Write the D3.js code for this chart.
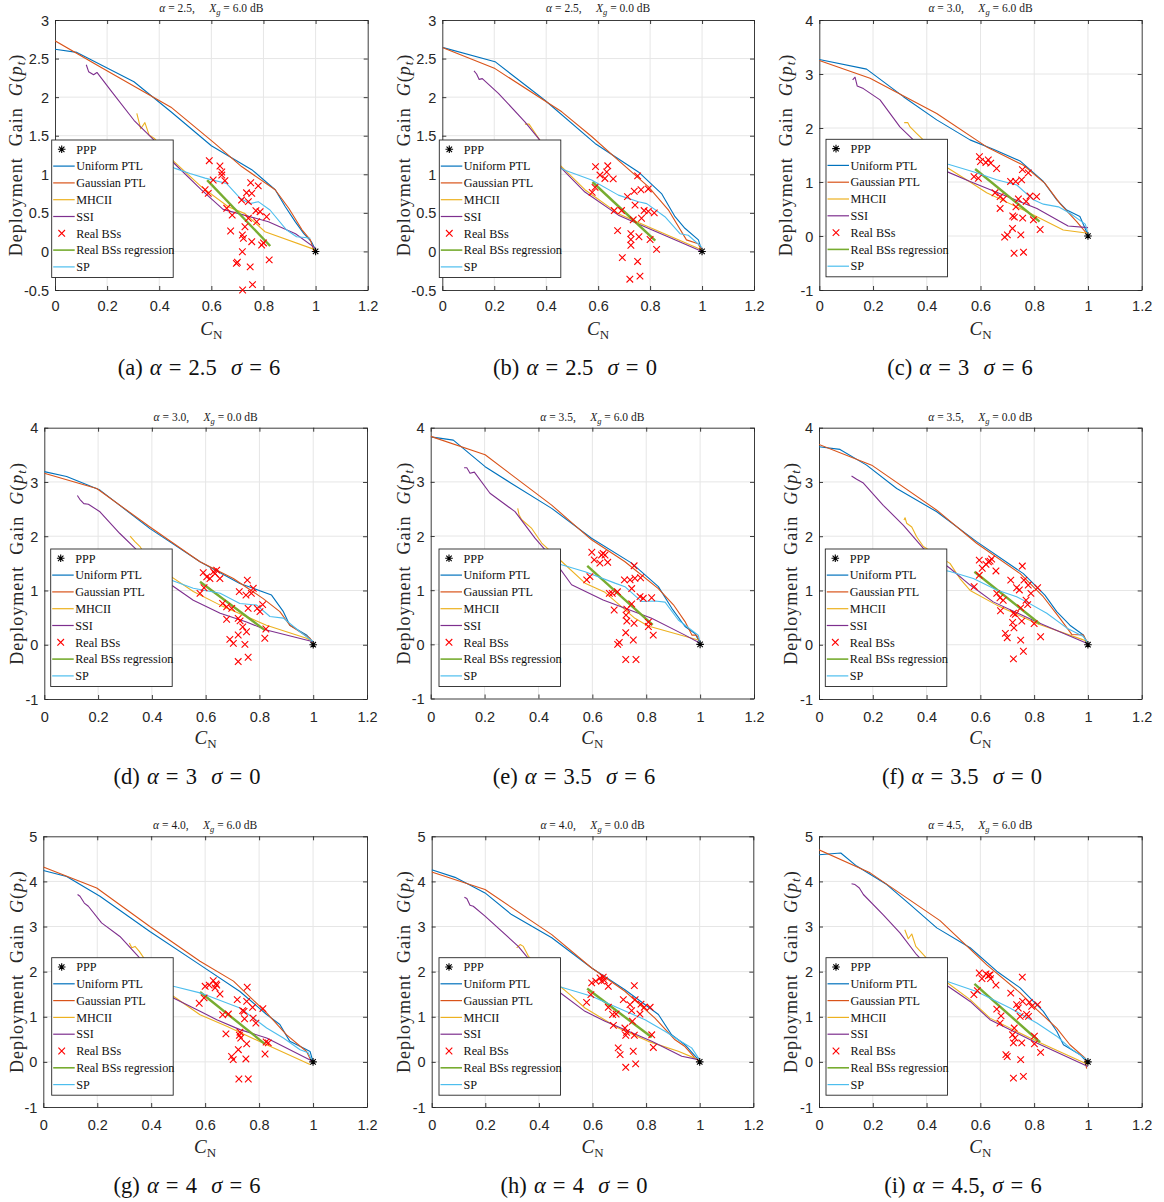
<!DOCTYPE html>
<html>
<head>
<meta charset="utf-8">
<script src="https://cdn.jsdelivr.net/npm/d3@7"></script>
<style>
  body { margin: 0; background: #fff; }
  text { white-space: pre; }
</style>
</head>
<body>
<svg id="fig" width="1164" height="1202"></svg>
<script>
// ---------- data ----------
const panelIds = ["a","b","c","d","e","f","g","h","i"];
const alphas = [2.5, 2.5, 3.0, 3.0, 3.5, 3.5, 4.0, 4.0, 4.5];
const shadowingDb = [6, 0, 6, 0, 6, 0, 6, 0, 6];
const xTickValues = [0, 0.2, 0.4, 0.6, 0.8, 1, 1.2];
const yDomains = [[-0.5,3],[-0.5,3],[-1,4],[-1,4],[-1,4],[-1,4],[-1,5],[-1,5],[-1,5]];
const yTickSets = [
  [-0.5,0,0.5,1,1.5,2,2.5,3],[-0.5,0,0.5,1,1.5,2,2.5,3],
  [-1,0,1,2,3,4],[-1,0,1,2,3,4],[-1,0,1,2,3,4],[-1,0,1,2,3,4],
  [-1,0,1,2,3,4,5],[-1,0,1,2,3,4,5],[-1,0,1,2,3,4,5]
];
const seriesNames = ["PPP","Uniform PTL","Gaussian PTL","MHCII","SSI","Real BSs","Real BSs regression","SP"];
const pppPoint = [1, 0];

const uniformPTL = [
  [[0,2.62],[0.084,2.58],[0.303,2.2],[0.445,1.81],[0.6,1.37],[0.755,1.06],[0.845,0.80],[0.884,0.58],[0.923,0.38],[0.955,0.23],[0.985,0.12],[1.0,0.02]],
  [[0,2.645],[0.203,2.46],[0.395,1.96],[0.588,1.40],[0.755,1.03],[0.844,0.75],[0.896,0.45],[0.934,0.30],[0.986,0.15],[1.0,0]],
  [[0,3.27],[0.176,3.09],[0.313,2.58],[0.437,2.15],[0.561,1.78],[0.65,1.60],[0.747,1.39],[0.834,1.01],[0.884,0.67],[0.921,0.48],[0.97,0.36],[1.0,0.02]],
  [[0,3.19],[0.083,3.10],[0.207,2.85],[0.393,2.14],[0.579,1.53],[0.727,1.13],[0.777,1.04],[0.845,0.915],[0.889,0.61],[0.913,0.36],[0.975,0.18],[1.0,0.04]],
  [[0,3.83],[0.084,3.77],[0.202,3.28],[0.30,2.97],[0.449,2.51],[0.597,1.96],[0.746,1.50],[0.845,1.065],[0.895,0.665],[0.944,0.33],[0.981,0.20],[1.0,0.02]],
  [[0,3.65],[0.078,3.60],[0.177,3.31],[0.289,2.88],[0.438,2.45],[0.586,1.90],[0.76,1.31],[0.84,0.915],[0.884,0.61],[0.933,0.36],[0.983,0.18],[0.995,0.04]],
  [[0,4.24],[0.0865,4.11],[0.21,3.67],[0.395,2.89],[0.581,2.15],[0.729,1.56],[0.828,1.05],[0.877,0.83],[0.914,0.455],[0.964,0.31],[0.989,0.23],[1.0,0]],
  [[0,4.26],[0.087,4.09],[0.199,3.745],[0.298,3.265],[0.448,2.75],[0.597,2.08],[0.721,1.60],[0.846,1.05],[0.895,0.60],[0.945,0.38],[0.989,0.09],[1.0,0.07]],
  [[0,4.59],[0.081,4.63],[0.14,4.34],[0.252,3.93],[0.338,3.49],[0.438,2.97],[0.562,2.53],[0.661,2.01],[0.748,1.64],[0.834,1.12],[0.884,0.68],[0.909,0.38],[0.971,0.16],[1.0,-0.03]]
];
const gaussianPTL = [
  [[0,2.73],[0.174,2.39],[0.445,1.87],[0.613,1.40],[0.716,1.10],[0.845,0.80],[0.897,0.56],[0.948,0.28],[0.98,0.15],[0.994,0]],
  [[0,2.645],[0.203,2.37],[0.46,1.81],[0.575,1.49],[0.678,1.18],[0.793,0.84],[0.87,0.54],[0.94,0.15],[0.985,0.10],[1.0,0]],
  [[0,3.25],[0.189,2.92],[0.437,2.27],[0.623,1.65],[0.76,1.31],[0.84,0.975],[0.896,0.60],[0.958,0.265],[0.995,0.05]],
  [[0,3.16],[0.195,2.88],[0.393,2.17],[0.579,1.53],[0.703,1.22],[0.814,0.85],[0.876,0.61],[0.913,0.36],[0.988,0.12],[1.0,0.03]],
  [[0,3.84],[0.202,3.50],[0.449,2.57],[0.597,1.93],[0.72,1.53],[0.845,1.03],[0.901,0.73],[0.944,0.42],[0.97,0.17],[0.987,0.17],[1.0,0.04]],
  [[0,3.69],[0.196,3.31],[0.438,2.48],[0.586,1.87],[0.748,1.31],[0.834,0.885],[0.896,0.485],[0.94,0.19],[0.983,0.18],[1.0,0.025]],
  [[0,4.32],[0.198,3.855],[0.395,3.0],[0.581,2.23],[0.705,1.79],[0.828,1.085],[0.902,0.60],[0.976,0.23],[0.995,0]],
  [[0,4.21],[0.199,3.82],[0.448,2.82],[0.597,2.08],[0.721,1.565],[0.833,0.97],[0.908,0.49],[0.945,0.34],[0.982,0.09],[1.0,0]],
  [[0,4.70],[0.19,4.19],[0.45,3.13],[0.624,2.15],[0.748,1.53],[0.81,1.16],[0.884,0.75],[0.933,0.38],[0.989,0.09],[0.995,-0.15]]
];
const mhcii = [
  [[0.314,1.79],[0.329,1.59],[0.345,1.67],[0.361,1.51],[0.383,1.46],[0.42,1.30],[0.458,1.16],[0.561,0.84],[0.665,0.58],[0.729,0.49],[0.806,0.255],[1.0,0.02]],
  [[0.318,1.65],[0.334,1.65],[0.35,1.57],[0.376,1.44],[0.42,1.25],[0.453,1.12],[0.549,0.80],[0.678,0.49],[0.806,0.30],[1.0,0.02]],
  [[0.316,2.10],[0.329,2.10],[0.338,2.02],[0.362,1.90],[0.387,1.78],[0.43,1.50],[0.462,1.31],[0.561,1.0],[0.623,0.80],[0.76,0.48],[0.908,0.11],[1.0,0.05]],
  [[0.319,2.0],[0.337,1.90],[0.356,1.81],[0.368,1.71],[0.455,1.31],[0.554,0.98],[0.654,0.73],[0.826,0.36],[0.975,0.12],[1.0,0.055]],
  [[0.323,2.51],[0.328,2.39],[0.338,2.30],[0.375,2.14],[0.412,1.87],[0.486,1.53],[0.573,1.13],[0.647,0.96],[0.758,0.48],[0.807,0.34],[0.993,0.08]],
  [[0.316,2.30],[0.32,2.34],[0.326,2.24],[0.345,2.17],[0.363,1.99],[0.388,1.81],[0.487,1.50],[0.524,1.22],[0.562,1.0],[0.661,0.73],[0.81,0.39],[0.983,0.09],[1.0,0.04]],
  [[0.319,2.635],[0.328,2.53],[0.34,2.56],[0.356,2.45],[0.373,2.30],[0.457,1.56],[0.581,1.045],[0.68,0.79],[0.828,0.38],[0.989,-0.06]],
  [[0.317,2.525],[0.33,2.60],[0.342,2.56],[0.361,2.34],[0.472,1.71],[0.516,1.49],[0.572,1.195],[0.696,0.75],[0.808,0.455],[0.92,0.235],[0.995,0.05]],
  [[0.319,2.93],[0.332,2.73],[0.345,2.835],[0.36,2.56],[0.394,2.34],[0.462,1.82],[0.562,1.38],[0.636,0.97],[0.81,0.455],[1.0,-0.06]]
];
const ssi = [
  [[0.12,2.42],[0.129,2.33],[0.148,2.29],[0.161,2.32],[0.213,2.09],[0.303,1.70],[0.381,1.44],[0.458,1.14],[0.561,0.80],[0.645,0.545],[0.819,0.385],[0.923,0.23],[1.0,0.04]],
  [[0.122,2.34],[0.132,2.30],[0.142,2.23],[0.154,2.24],[0.216,2.05],[0.318,1.68],[0.37,1.465],[0.447,1.12],[0.549,0.77],[0.678,0.47],[0.806,0.28],[1.0,0]],
  [[0.124,2.89],[0.133,2.94],[0.141,2.78],[0.164,2.73],[0.226,2.52],[0.30,2.02],[0.35,1.78],[0.40,1.55],[0.462,1.22],[0.561,1.01],[0.685,0.76],[0.81,0.51],[0.926,0.185],[1.0,0.155]],
  [[0.123,2.75],[0.132,2.68],[0.147,2.60],[0.164,2.59],[0.207,2.45],[0.281,2.05],[0.337,1.78],[0.455,1.16],[0.554,0.82],[0.654,0.58],[0.752,0.42],[0.826,0.27],[1.0,0.055]],
  [[0.124,3.26],[0.134,3.26],[0.146,3.16],[0.162,3.18],[0.22,2.79],[0.313,2.45],[0.387,1.96],[0.45,1.60],[0.523,1.10],[0.64,0.82],[0.82,0.48],[0.944,0.17],[1.0,0.02]],
  [[0.121,3.11],[0.14,3.05],[0.165,2.98],[0.239,2.57],[0.314,2.20],[0.388,1.775],[0.487,1.41],[0.562,1.10],[0.648,0.79],[0.81,0.42],[1.0,0.02]],
  [[0.127,3.71],[0.136,3.67],[0.152,3.52],[0.167,3.45],[0.216,3.08],[0.284,2.78],[0.346,2.38],[0.457,1.64],[0.482,1.415],[0.581,1.12],[0.643,0.935],[0.729,0.715],[0.828,0.53],[1.0,0.01]],
  [[0.122,3.65],[0.131,3.62],[0.143,3.47],[0.155,3.45],[0.199,3.23],[0.323,2.56],[0.354,2.34],[0.472,1.565],[0.572,1.12],[0.647,0.90],[0.821,0.455],[0.933,0.125],[0.995,0.05]],
  [[0.121,3.95],[0.134,3.93],[0.15,3.855],[0.165,3.71],[0.239,3.26],[0.301,2.86],[0.363,2.375],[0.462,1.75],[0.562,1.34],[0.636,0.935],[0.81,0.42],[1.0,-0.10]]
];
const spCurve = [
  [[0.44,1.12],[0.458,1.08],[0.518,1.01],[0.576,0.95],[0.659,0.88],[0.71,0.69],[0.748,0.62],[0.78,0.645],[0.825,0.537],[0.889,0.277],[0.927,0.19],[0.959,0.18],[0.98,0.17]],
  [[0.44,1.10],[0.475,1.05],[0.575,0.925],[0.678,0.73],[0.755,0.645],[0.787,0.62],[0.857,0.45],[0.915,0.23],[0.947,0.21],[0.998,0.06]],
  [[0.44,1.40],[0.48,1.33],[0.573,1.19],[0.66,1.04],[0.735,0.945],[0.797,0.67],[0.834,0.59],[0.89,0.54],[0.933,0.42],[0.99,0.22],[1.0,0.05]],
  [[0.44,1.28],[0.455,1.22],[0.554,1.04],[0.654,0.95],[0.727,0.76],[0.79,0.73],[0.839,0.52],[0.889,0.49],[0.951,0.24],[1.0,0.055]],
  [[0.46,1.52],[0.486,1.47],[0.573,1.34],[0.684,1.13],[0.721,1.065],[0.783,0.79],[0.833,0.80],[0.87,0.78],[0.919,0.45],[0.993,0.17],[1.0,0.04]],
  [[0.46,1.38],[0.487,1.35],[0.574,1.22],[0.661,1.01],[0.735,0.885],[0.772,0.79],[0.847,0.58],[0.921,0.31],[0.983,0.15],[1.0,0.04]],
  [[0.44,1.72],[0.482,1.675],[0.581,1.53],[0.729,1.195],[0.828,0.75],[0.89,0.53],[0.952,0.27],[0.982,0.20],[0.998,0]],
  [[0.44,1.72],[0.472,1.675],[0.597,1.455],[0.696,1.195],[0.796,0.935],[0.87,0.68],[0.92,0.49],[0.97,0.31],[0.995,0.09],[1.0,0.06]],
  [[0.46,1.82],[0.475,1.785],[0.586,1.56],[0.71,1.195],[0.81,0.86],[0.884,0.57],[0.933,0.31],[0.995,0.05]]
];
const regression = [
  [[0.584,0.925],[0.826,0.07]],
  [[0.578,0.90],[0.82,0.14]],
  [[0.58,1.24],[0.82,0.265]],
  [[0.579,1.16],[0.82,0.27]],
  [[0.581,1.45],[0.824,0.36]],
  [[0.578,1.345],[0.82,0.39]],
  [[0.581,1.55],[0.822,0.395]],
  [[0.58,1.625],[0.821,0.545]],
  [[0.578,1.73],[0.822,0.435]]
];
const realBSs = [
  [[0.592,1.176],[0.633,1.107],[0.64,1.03],[0.64,0.99],[0.607,0.926],[0.652,0.917],[0.576,0.80],[0.588,0.753],[0.751,0.89],[0.78,0.85],[0.735,0.76],[0.755,0.753],[0.716,0.666],[0.742,0.645],[0.659,0.559],[0.68,0.47],[0.771,0.528],[0.787,0.515],[0.812,0.45],[0.742,0.43],[0.774,0.385],[0.729,0.32],[0.674,0.265],[0.719,0.213],[0.723,0.17],[0.755,0.126],[0.793,0.083],[0.80,0.11],[0.719,-0.004],[0.696,-0.155],[0.70,-0.14],[0.749,-0.2],[0.822,-0.11],[0.758,-0.43],[0.72,-0.5]],
  [[0.59,1.10],[0.637,1.11],[0.633,1.03],[0.607,0.99],[0.626,0.946],[0.658,0.94],[0.588,0.83],[0.577,0.765],[0.752,0.98],[0.739,0.78],[0.765,0.80],[0.793,0.81],[0.713,0.71],[0.742,0.60],[0.662,0.53],[0.69,0.53],[0.777,0.53],[0.793,0.52],[0.816,0.50],[0.767,0.43],[0.735,0.41],[0.675,0.27],[0.726,0.23],[0.757,0.19],[0.726,0.155],[0.726,0.08],[0.80,0.155],[0.825,0.026],[0.693,-0.08],[0.752,-0.13],[0.761,-0.32],[0.722,-0.36]],
  [[0.596,1.47],[0.60,1.38],[0.62,1.36],[0.629,1.41],[0.638,1.35],[0.66,1.25],[0.576,1.10],[0.592,1.07],[0.756,1.23],[0.778,1.17],[0.712,1.01],[0.731,1.01],[0.753,1.04],[0.654,0.80],[0.673,0.73],[0.685,0.68],[0.741,0.685],[0.784,0.74],[0.809,0.73],[0.77,0.64],[0.732,0.54],[0.673,0.51],[0.72,0.37],[0.726,0.35],[0.757,0.33],[0.797,0.30],[0.822,0.12],[0.719,0.14],[0.75,0.02],[0.70,0.02],[0.69,-0.02],[0.725,-0.32],[0.76,-0.30]],
  [[0.591,1.33],[0.629,1.345],[0.641,1.375],[0.635,1.31],[0.604,1.25],[0.616,1.22],[0.653,1.22],[0.579,0.946],[0.594,1.05],[0.755,1.19],[0.777,1.04],[0.725,0.98],[0.75,0.915],[0.77,0.946],[0.758,0.67],[0.792,0.67],[0.802,0.61],[0.812,0.74],[0.663,0.76],[0.678,0.70],[0.697,0.67],[0.678,0.47],[0.721,0.485],[0.728,0.44],[0.738,0.33],[0.752,0.24],[0.824,0.29],[0.721,0.18],[0.69,0.10],[0.703,0.025],[0.746,0.006],[0.82,0.12],[0.721,-0.31],[0.758,-0.23]],
  [[0.598,1.70],[0.607,1.56],[0.628,1.50],[0.634,1.65],[0.64,1.68],[0.647,1.65],[0.657,1.515],[0.579,1.19],[0.591,1.25],[0.755,1.45],[0.779,1.23],[0.719,1.19],[0.74,1.19],[0.758,1.22],[0.746,1.03],[0.663,0.94],[0.674,0.94],[0.693,0.97],[0.746,0.745],[0.777,0.88],[0.789,0.85],[0.82,0.86],[0.681,0.634],[0.728,0.65],[0.725,0.54],[0.728,0.43],[0.755,0.39],[0.808,0.41],[0.808,0.33],[0.724,0.215],[0.826,0.17],[0.752,0.08],[0.70,0.037],[0.694,0.0],[0.724,-0.28],[0.762,-0.28]],
  [[0.596,1.56],[0.607,1.41],[0.621,1.48],[0.63,1.53],[0.642,1.58],[0.636,1.54],[0.658,1.36],[0.577,1.07],[0.596,1.28],[0.756,1.45],[0.762,1.19],[0.713,1.19],[0.735,1.05],[0.745,1.01],[0.778,1.10],[0.788,0.946],[0.813,1.05],[0.77,0.82],[0.776,0.74],[0.75,0.68],[0.661,0.946],[0.673,0.866],[0.685,0.82],[0.675,0.627],[0.723,0.58],[0.73,0.56],[0.72,0.41],[0.754,0.436],[0.725,0.31],[0.80,0.39],[0.824,0.147],[0.693,0.21],[0.70,0.13],[0.75,0.086],[0.76,-0.12],[0.723,-0.26]],
  [[0.578,1.30],[0.596,1.42],[0.60,1.675],[0.615,1.70],[0.63,1.80],[0.637,1.64],[0.64,1.73],[0.643,1.70],[0.655,1.505],[0.756,1.655],[0.719,1.38],[0.754,1.34],[0.776,1.21],[0.814,1.18],[0.744,1.12],[0.739,1.135],[0.746,0.955],[0.778,0.97],[0.788,0.86],[0.665,1.045],[0.686,1.06],[0.677,0.62],[0.727,0.59],[0.729,0.66],[0.732,0.53],[0.754,0.40],[0.826,0.44],[0.834,0.42],[0.723,0.27],[0.822,0.175],[0.698,0.12],[0.704,0.05],[0.751,0.065],[0.725,-0.38],[0.76,-0.38]],
  [[0.578,1.32],[0.594,1.49],[0.597,1.75],[0.612,1.79],[0.628,1.86],[0.634,1.79],[0.64,1.88],[0.644,1.81],[0.659,1.675],[0.756,1.69],[0.715,1.38],[0.759,1.38],[0.74,1.27],[0.781,1.28],[0.815,1.21],[0.746,1.135],[0.777,1.06],[0.793,1.21],[0.659,1.21],[0.675,1.05],[0.688,1.06],[0.678,0.81],[0.721,0.75],[0.724,0.59],[0.727,0.655],[0.756,0.59],[0.749,0.90],[0.821,0.60],[0.827,0.32],[0.696,0.31],[0.703,0.16],[0.752,0.235],[0.724,-0.12],[0.761,-0.045]],
  [[0.576,1.49],[0.589,1.58],[0.596,1.97],[0.606,1.845],[0.621,1.95],[0.63,1.91],[0.636,1.93],[0.638,1.845],[0.658,1.70],[0.756,1.88],[0.713,1.525],[0.735,1.27],[0.741,1.195],[0.757,1.34],[0.782,1.32],[0.791,1.23],[0.813,1.27],[0.772,1.05],[0.779,1.01],[0.748,1.01],[0.661,1.17],[0.677,1.02],[0.673,0.86],[0.726,0.75],[0.72,0.60],[0.729,0.53],[0.754,0.42],[0.723,0.42],[0.801,0.57],[0.801,0.40],[0.824,0.21],[0.695,0.16],[0.70,0.12],[0.75,0.05],[0.723,-0.36],[0.76,-0.32]]
];

// ---------- layout ----------
const plotBoxes = [ // left, right, top, bottom
  [55,367.7,20,290],[442.3,754,20,290],[819.3,1141.7,20,290],
  [44.3,367,427.7,699],[430.7,754,427.7,698.5],[819,1141.7,427.7,699],
  [43.3,367,836.3,1107],[431.7,753.3,836.3,1107],[819,1141.7,836.3,1107]
];
const legendCorners = [
  [51.7,140],[439.3,140],[826,139.3],
  [50.7,549],[439,549],[825.3,549],
  [51.7,957.7],[439,957.7],[826,957.7]
];
const rowTitleY = [8, 416.5, 825];
const rowTickLabelY = [306, 717, 1125];
const rowXLabelY = [328, 737, 1146];
const rowCaptionY = [367, 776, 1185];
const yLabelCenterX = [16,404,786, 17,404,791, 17,404,791];
const captionCenterX = [199,575,960, 187,574,962, 187,574,963];

const colors = {
  ppp: "#000000", uniform: "#0072BD", gaussian: "#D95319", mhcii: "#EDB120",
  ssi: "#7E2F8E", real: "#FF0000", regression: "#77AC30", sp: "#4DBEEE"
};
const axisColor = "#262626";
const gridColor = "#e6e6e6";
const serif = "'Liberation Serif','DejaVu Serif',serif";
const sans = "'Liberation Sans',Arial,Helvetica,sans-serif";

const svg = d3.select("#fig");
const fmt1 = d3.format(".1f");

function crossPath(s) { return `M${-s},${-s}L${s},${s}M${-s},${s}L${s},${-s}`; }
function starPath(s) {
  const d = s * 0.72;
  return `M${-s},0L${s},0M0,${-s}L0,${s}M${-d},${-d}L${d},${d}M${-d},${d}L${d},${-d}`;
}

panelIds.forEach((id, k) => {
  const [l, r, t, b] = plotBoxes[k];
  const row = Math.floor(k / 3);
  const x = d3.scaleLinear().domain([0, 1.2]).range([l, r]);
  const y = d3.scaleLinear().domain(yDomains[k]).range([b, t]);
  const g = svg.append("g").attr("class", "panel-" + id);

  const clipId = "clip-" + id;
  g.append("clipPath").attr("id", clipId)
    .append("rect").attr("x", l).attr("y", t).attr("width", r - l).attr("height", b - t);

  // grid
  g.append("g").selectAll("line").data(xTickValues.slice(1, -1)).join("line")
    .attr("x1", d => x(d)).attr("x2", d => x(d)).attr("y1", t).attr("y2", b)
    .attr("stroke", gridColor).attr("stroke-width", 1);
  g.append("g").selectAll("line").data(yTickSets[k].slice(1, -1)).join("line")
    .attr("y1", d => y(d)).attr("y2", d => y(d)).attr("x1", l).attr("x2", r)
    .attr("stroke", gridColor).attr("stroke-width", 1);

  // axes (ticks point inward, box on all four sides)
  const styleAxis = sel => {
    sel.selectAll("path.domain").attr("stroke", axisColor).attr("stroke-width", 0.9);
    sel.selectAll(".tick line").attr("stroke", axisColor).attr("stroke-width", 0.9);
  };
  const bottomAx = g.append("g").attr("transform", `translate(0,${b})`)
    .call(d3.axisBottom(x).tickValues(xTickValues).tickSizeInner(-4).tickSizeOuter(0).tickFormat(d3.format("")));
  bottomAx.selectAll(".tick text")
    .attr("y", rowTickLabelY[row] - b).attr("dy", "0.35em")
    .attr("font-family", sans).attr("font-size", 14.5).attr("fill", axisColor);
  styleAxis(bottomAx);
  const leftAx = g.append("g").attr("transform", `translate(${l},0)`)
    .call(d3.axisLeft(y).tickValues(yTickSets[k]).tickSizeInner(-4).tickSizeOuter(0).tickFormat(d => String(d)));
  leftAx.selectAll(".tick text")
    .attr("x", -6).attr("dy", "0.35em")
    .attr("font-family", sans).attr("font-size", 14.5).attr("fill", axisColor);
  styleAxis(leftAx);
  const topAx = g.append("g").attr("transform", `translate(0,${t})`)
    .call(d3.axisTop(x).tickValues(xTickValues).tickSizeInner(-4).tickSizeOuter(0).tickFormat(""));
  styleAxis(topAx);
  const rightAx = g.append("g").attr("transform", `translate(${r},0)`)
    .call(d3.axisRight(y).tickValues(yTickSets[k]).tickSizeInner(-4).tickSizeOuter(0).tickFormat(""));
  styleAxis(rightAx);
  g.selectAll(".domain").attr("fill", "none");

  // series
  const line = d3.line().x(d => x(d[0])).y(d => y(d[1]));
  const plot = g.append("g").attr("clip-path", `url(#${clipId})`);
  const drawLine = (data, color, width) =>
    plot.append("path").datum(data).attr("d", line).attr("fill", "none")
      .attr("stroke", color).attr("stroke-width", width).attr("stroke-linejoin", "round");

  drawLine(uniformPTL[k], colors.uniform, 1.1);
  drawLine(gaussianPTL[k], colors.gaussian, 1.1);
  drawLine(mhcii[k], colors.mhcii, 1.1);
  drawLine(ssi[k], colors.ssi, 1.1);

  g.append("g").selectAll("path").data(realBSs[k]).join("path")
    .attr("transform", d => `translate(${x(d[0])},${y(d[1])})`)
    .attr("d", crossPath(3.3)).attr("stroke", colors.real).attr("stroke-width", 1.1).attr("fill", "none");

  drawLine(regression[k], colors.regression, 2.4);
  drawLine(spCurve[k], colors.sp, 1.1);

  g.append("path")
    .attr("transform", `translate(${x(pppPoint[0])},${y(pppPoint[1])})`)
    .attr("d", starPath(3.8)).attr("stroke", colors.ppp).attr("stroke-width", 1.1);

  // title
  const title = g.append("text")
    .attr("x", (l + r) / 2).attr("y", rowTitleY[row]).attr("dy", "0.35em")
    .attr("text-anchor", "middle").attr("font-family", serif).attr("font-size", 11.5).attr("fill", "#1a1a1a");
  title.append("tspan").attr("font-style", "italic").text("α");
  title.append("tspan").text(" = " + fmt1(alphas[k]) + ",     ");
  title.append("tspan").attr("font-style", "italic").text("X");
  title.append("tspan").attr("font-style", "italic").attr("font-size", 8.5).attr("dy", 3).text("g");
  title.append("tspan").attr("dy", -3).text(" = " + fmt1(shadowingDb[k]) + " dB");

  // y label
  const yc = (t + b) / 2;
  const ylab = g.append("text")
    .attr("transform", `translate(${yLabelCenterX[k]},${yc}) rotate(-90)`)
    .attr("text-anchor", "middle").attr("dy", "0.35em")
    .attr("font-family", serif).attr("font-size", 18).attr("letter-spacing", 1)
    .attr("fill", "#262626");
  ylab.append("tspan").text("Deployment  Gain  ");
  ylab.append("tspan").attr("font-style", "italic").text("G");
  ylab.append("tspan").text("(");
  ylab.append("tspan").attr("font-style", "italic").text("p");
  ylab.append("tspan").attr("font-style", "italic").attr("font-size", 13).attr("dy", 3).text("t");
  ylab.append("tspan").attr("dy", -3).text(")");

  // x label
  const xlab = g.append("text")
    .attr("x", (l + r) / 2).attr("y", rowXLabelY[row]).attr("dy", "0.35em")
    .attr("text-anchor", "middle").attr("font-family", serif).attr("font-size", 19).attr("fill", "#262626");
  xlab.append("tspan").attr("font-style", "italic").text("C");
  xlab.append("tspan").attr("font-size", 13).attr("dy", 4).text("N");

  // legend
  const [lx, ly] = legendCorners[k];
  const lg = g.append("g").attr("transform", `translate(${lx},${ly})`);
  lg.append("rect").attr("width", 121.5).attr("height", 137.5)
    .attr("fill", "#fff").attr("stroke", axisColor).attr("stroke-width", 0.9);
  const legendColors = [colors.ppp, colors.uniform, colors.gaussian, colors.mhcii, colors.ssi, colors.real, colors.regression, colors.sp];
  seriesNames.forEach((name, j) => {
    const ey = 9.3 + j * 16.8;
    if (j === 0) {
      lg.append("path").attr("transform", `translate(10,${ey})`).attr("d", starPath(3.8))
        .attr("stroke", colors.ppp).attr("stroke-width", 1.1);
    } else if (j === 5) {
      lg.append("path").attr("transform", `translate(10,${ey})`).attr("d", crossPath(3.3))
        .attr("stroke", colors.real).attr("stroke-width", 1.1);
    } else {
      lg.append("line").attr("x1", 1.5).attr("x2", 23).attr("y1", ey).attr("y2", ey)
        .attr("stroke", legendColors[j]).attr("stroke-width", j === 6 ? 1.6 : 1.2);
    }
    lg.append("text").attr("x", 24.5).attr("y", ey).attr("dy", "0.35em")
      .attr("font-family", serif).attr("font-size", 12.2).attr("fill", "#111").text(name);
  });

  // caption
  const cap = svg.append("text")
    .attr("x", captionCenterX[k]).attr("y", rowCaptionY[row]).attr("dy", "0.35em")
    .attr("text-anchor", "middle").attr("font-family", serif).attr("font-size", 22.5)
    .attr("word-spacing", 1.5).attr("fill", "#111");
  cap.append("tspan").text("(" + id + ") ");
  cap.append("tspan").attr("font-style", "italic").text("α");
  cap.append("tspan").text(" = " + String(alphas[k]) + (id === "i" ? ", " : "  "));
  cap.append("tspan").attr("font-style", "italic").text("σ");
  cap.append("tspan").text(" = " + shadowingDb[k]);
});
</script>
</body>
</html>
